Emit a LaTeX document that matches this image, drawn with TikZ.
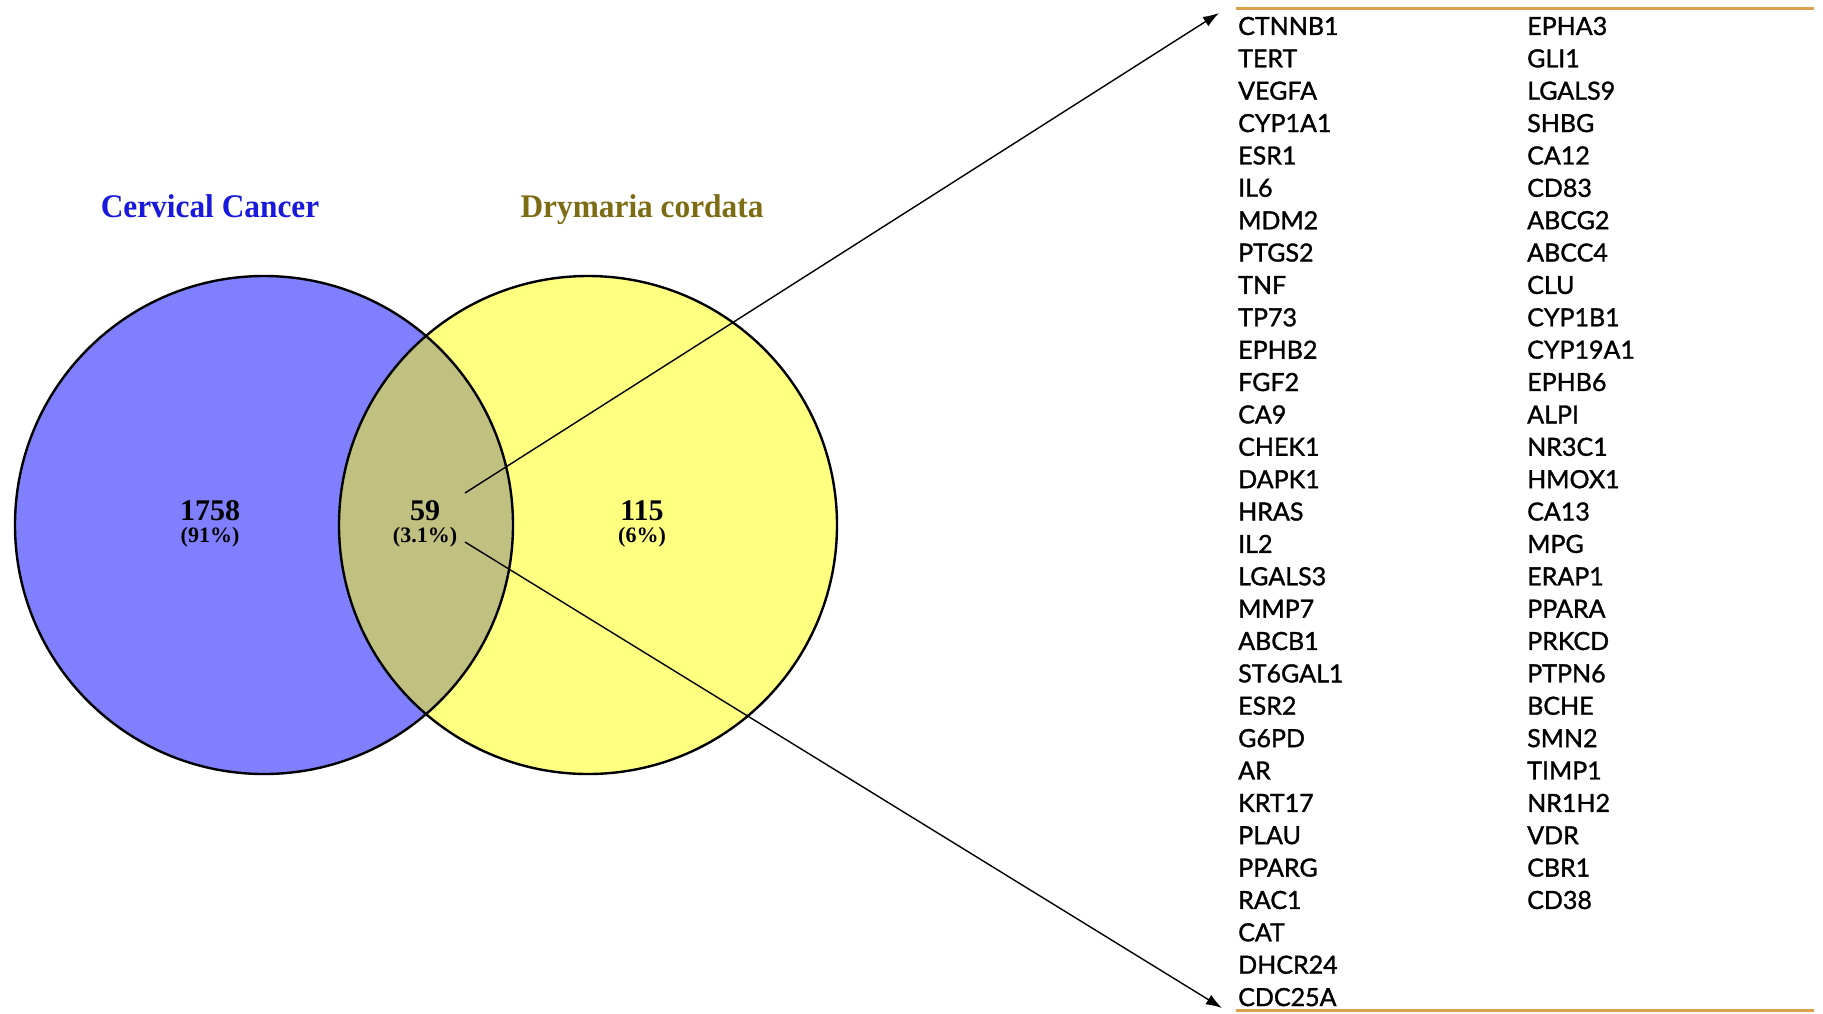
\documentclass[tikz,border=0pt]{standalone}
\usepackage{fontspec}
\setmainfont{Liberation Serif}
\newfontfamily\genefont[FakeBold=1.3]{Lato}
\usetikzlibrary{arrows.meta}
\definecolor{cancerblue}{RGB}{128,128,255}
\definecolor{plantyellow}{RGB}{255,255,128}
\definecolor{overlapolive}{RGB}{192,192,128}
\definecolor{cancertext}{RGB}{25,25,220}
\definecolor{planttext}{RGB}{125,108,20}
\definecolor{listrule}{RGB}{218,160,75}

\begin{document}
\begin{tikzpicture}[x=1pt,y=-1pt,
        title/.style={anchor=base,xscale=0.95,font=\bfseries\fontsize{33}{38}\selectfont},
        count/.style={font=\bfseries\fontsize{30}{32}\selectfont},
        share/.style={font=\bfseries\fontsize{22}{24}\selectfont},
        gene/.style={anchor=west,inner sep=0pt,font=\genefont\fontsize{25}{28}\selectfont},
        pointer/.style={-{Latex[length=16pt,width=11pt]},line width=1.4pt}]
    \useasboundingbox (0,0) rectangle (1823,1013);
    \def\cr{249}

    % circles
    \fill[cancerblue] (264,525) circle (\cr);
    \fill[plantyellow] (588,525) circle (\cr);
    \begin{scope}
        \clip (588,525) circle (\cr);
        \fill[overlapolive] (264,525) circle (\cr);
    \end{scope}
    \draw[line width=2.4pt] (264,525) circle (\cr);
    \draw[line width=2.4pt] (588,525) circle (\cr);

    % titles and counts
    \node[title,text=cancertext] (cc) at (210,217) {Cervical Cancer};
    \node[title,text=planttext] (dc) at (642,217) {Drymaria cordata};
    \node[count] (n1) at (210,511) {1758};
    \node[share] (p1) at (210,537) {(91\%)};
    \node[count] (n2) at (425,511) {59};
    \node[share] (p2) at (425,537) {(3.1\%)};
    \node[count] (n3) at (642,511) {115};
    \node[share] (p3) at (642,537) {(6\%)};

    % gene list
    \coordinate (toprule) at (1236,8);
    \coordinate (botrule) at (1236,1010);
    \draw[listrule,line width=3pt] (toprule) -- ++(578,0);
    \draw[listrule,line width=3pt] (botrule) -- ++(578,0);
    \foreach \g [count=\i from 0] in {CTNNB1,TERT,VEGFA,CYP1A1,ESR1,IL6,MDM2,PTGS2,TNF,TP73,EPHB2,FGF2,CA9,CHEK1,DAPK1,HRAS,IL2,LGALS3,MMP7,ABCB1,ST6GAL1,ESR2,G6PD,AR,KRT17,PLAU,PPARG,RAC1,CAT,DHCR24,CDC25A}
        \node[gene] (l\i) at (1238,{26+32.37*\i}) {\g};
    \foreach \g [count=\i from 0] in {EPHA3,GLI1,LGALS9,SHBG,CA12,CD83,ABCG2,ABCC4,CLU,CYP1B1,CYP19A1,EPHB6,ALPI,NR3C1,HMOX1,CA13,MPG,ERAP1,PPARA,PRKCD,PTPN6,BCHE,SMN2,TIMP1,NR1H2,VDR,CBR1,CD38}
        \node[gene] (r\i) at (1527,{26+32.37*\i}) {\g};

    % pointers
    \coordinate (up) at (465,493);
    \coordinate (down) at (465,542);
    \coordinate (uptip) at (1219,13);
    \coordinate (downtip) at (1222,1008);
    \draw[pointer] (up) -- (uptip);
    \draw[pointer] (down) -- (downtip);
\end{tikzpicture}
\end{document}
